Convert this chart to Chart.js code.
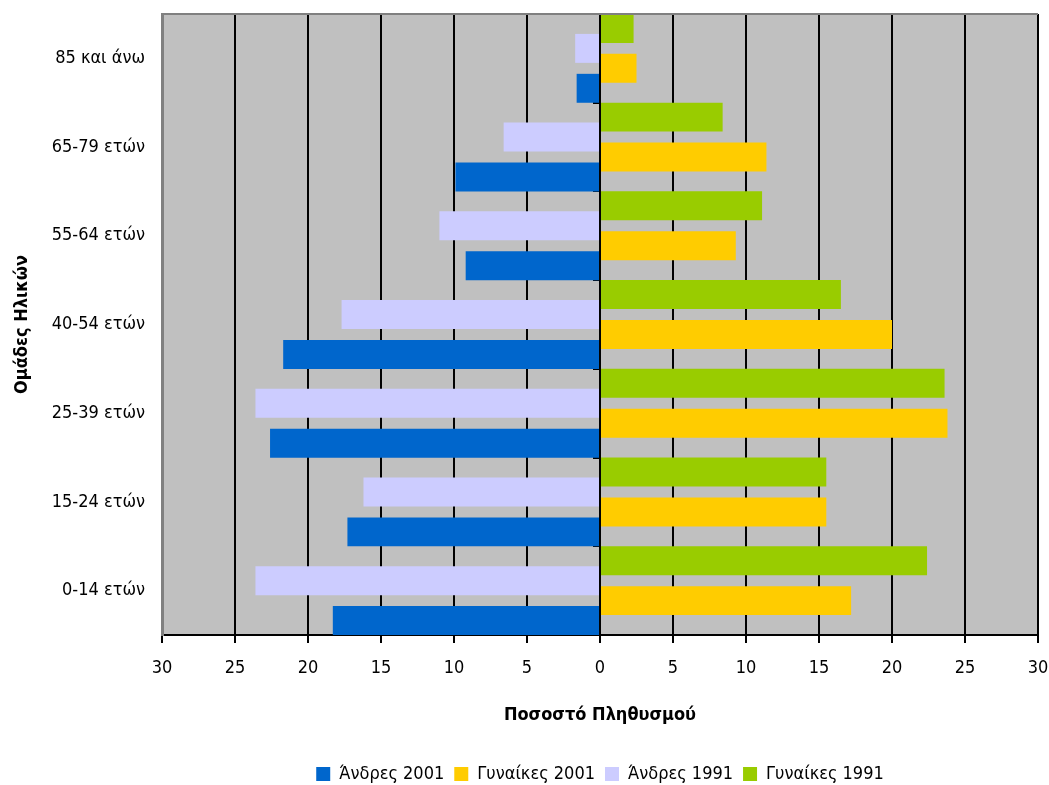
<!DOCTYPE html>
<html>
<head>
<meta charset="utf-8">
<script src="https://cdn.jsdelivr.net/npm/chart.js@4.4.1/dist/chart.umd.min.js"></script>
<style>
  html, body { margin: 0; padding: 0; background: #fff; }
  #wrap { width: 1049px; height: 785px; }
</style>
</head>
<body>
<div id="wrap"><canvas id="pyramid_chart"></canvas></div>
<script>
var ageGroups = ["0-14 ετών", "15-24 ετών", "25-39 ετών", "40-54 ετών", "55-64 ετών", "65-79 ετών", "85 και άνω"];
var men2001 = [18.3, 17.3, 22.6, 21.7, 9.2, 9.9, 1.6];
var women2001 = [17.2, 15.5, 23.8, 20.0, 9.3, 11.4, 2.5];
var men1991 = [23.6, 16.2, 23.6, 17.7, 11.0, 6.6, 1.7];
var women1991 = [22.4, 15.5, 23.6, 16.5, 11.1, 8.4, 2.3];

var narrow = "'Liberation Sans Narrow', 'Arial Narrow', 'DejaVu Sans Condensed', 'Liberation Sans', Arial, sans-serif";

function neg(arr) {
    return arr.map(function(v) { return -v; });
}

// kill the automatic edge padding so layout.padding decides the plot box
function noPad(scale) {
    scale.paddingTop = 0;
    scale.paddingBottom = 0;
    scale.paddingLeft = 0;
    scale.paddingRight = 0;
}

// grey plot background + grey top border like the excel chart
var plotBg = {
    id: 'plotBg',
    beforeDraw: function(chart) {
        var a = chart.chartArea, c = chart.ctx;
        c.save();
        c.fillStyle = '#C0C0C0';
        c.fillRect(a.left, a.top, a.right - a.left, a.bottom - a.top);
        c.restore();
    },
    afterDraw: function(chart) {
        var a = chart.chartArea, c = chart.ctx;
        c.save();
        c.strokeStyle = '#808080';
        c.lineWidth = 2;
        c.beginPath();
        c.moveTo(a.left, a.top);
        c.lineTo(a.right, a.top);
        c.stroke();
        c.restore();
    }
};

// datasets listed top-to-bottom inside each group; legend is reversed back
var pyramidData = {
    labels: ageGroups,
    datasets: [
        { label: "Γυναίκες 1991", backgroundColor: '#99CC00', data: women1991 },
        { label: "Άνδρες 1991", backgroundColor: '#CCCCFF', data: neg(men1991) },
        { label: "Γυναίκες 2001", backgroundColor: '#FFCC00', data: women2001 },
        { label: "Άνδρες 2001", backgroundColor: '#0066CC', data: neg(men2001) }
    ]
};

var pyramidOptions = {
    indexAxis: 'y',
    responsive: true,
    maintainAspectRatio: false,
    animation: false,
    layout: { padding: { top: 14, right: 11, left: 0, bottom: -8 } },
    datasets: {
        bar: { categoryPercentage: 0.9, barPercentage: 1.45, grouped: true }
    },
    scales: {
        x: {
            type: 'linear',
            min: -30,
            max: 30,
            afterFit: function(scale) { noPad(scale); scale.height = 120; },
            ticks: {
                stepSize: 5,
                color: '#000',
                font: { family: narrow, size: 18 },
                padding: 15,
                callback: function(v) { return Math.abs(v); }
            },
            grid: { color: '#000', lineWidth: 2, tickLength: 8, tickColor: '#000' },
            border: { color: '#000', width: 2 },
            title: {
                display: true,
                text: 'Ποσοστό Πληθυσμού',
                color: '#000',
                font: { family: narrow, size: 18, weight: 'bold' },
                padding: { top: 10, bottom: 29 }
            }
        },
        y: {
            type: 'category',
            position: 'left',
            reverse: true,
            offset: true,
            afterFit: function(scale) { noPad(scale); scale.width = 162; },
            grid: { display: false },
            border: { color: '#808080', width: 3 },
            ticks: {
                color: '#000',
                font: { family: narrow, size: 18 },
                padding: 9
            },
            title: {
                display: true,
                text: 'Ομάδες Ηλικών',
                color: '#000',
                font: { family: narrow, size: 18, weight: 'bold' },
                padding: { top: 12, bottom: 10 }
            }
        },
        y2: {
            type: 'category',
            labels: ageGroups,
            position: { x: 0 },
            reverse: true,
            offset: true,
            afterFit: noPad,
            grid: { drawOnChartArea: false, offset: true, tickLength: 7, color: '#000', lineWidth: 2 },
            border: { display: false },
            ticks: { display: false }
        }
    },
    plugins: {
        legend: {
            position: 'bottom',
            fullSize: false,
            reverse: true,
            labels: {
                color: '#000',
                font: { family: narrow, size: 18 },
                boxWidth: 14,
                boxHeight: 14,
                padding: 10
            }
        },
        tooltip: { enabled: false }
    }
};

var ctx1 = document.getElementById("pyramid_chart");
new Chart(ctx1, { type: 'bar', data: pyramidData, options: pyramidOptions, plugins: [plotBg] });
</script>
</body>
</html>
